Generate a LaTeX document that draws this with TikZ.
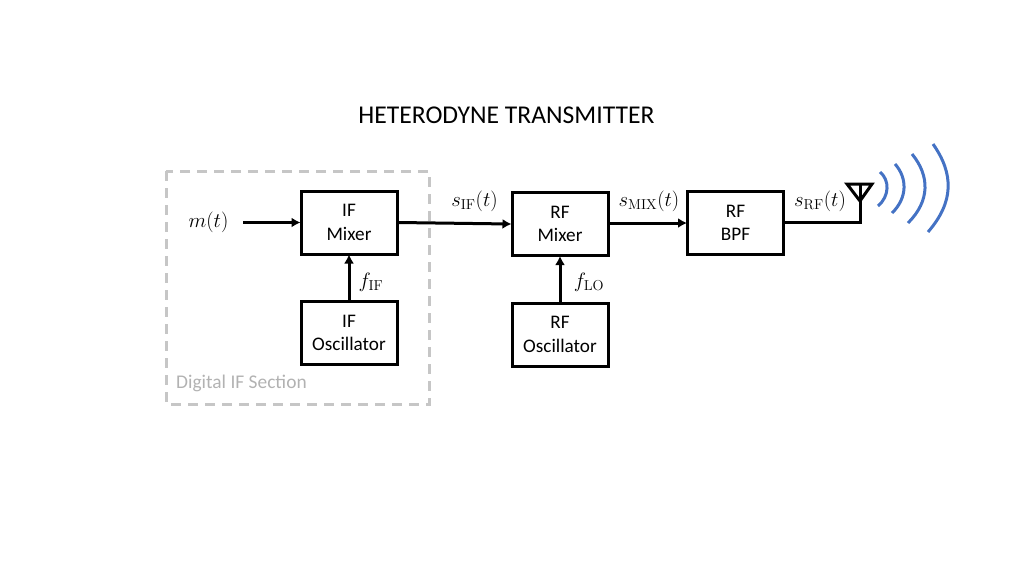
\documentclass[tikz,border=0pt]{standalone}
\usepackage{amsmath,amssymb}
\usepackage[no-math]{fontspec}
\setmainfont{Carlito}
\usetikzlibrary{arrows.meta}
\definecolor{sectgray}{RGB}{198,198,198}
\definecolor{wavblue}{RGB}{68,114,196}
\tikzset{
	blockbox/.style={draw=black,line width=3pt,minimum width=96pt,minimum height=63pt,align=center,inner sep=0pt,font=\fontsize{19.2}{23.5}\selectfont},
	sigline/.style={line width=3pt},
	sigarrow/.style={line width=3pt,-{Latex[length=9pt,width=10pt]},shorten >=-1pt},
	siglabel/.style={font=\fontsize{21}{24}\selectfont,inner sep=0pt},
	wavearc/.style={draw=wavblue,line width=3pt}
}
\begin{document}
\begin{tikzpicture}[x=1pt,y=-1pt]
		\useasboundingbox (0,0) rectangle (1024,576);
		\node[font=\fontsize{25.6}{30}\selectfont,inner sep=0pt] (title) at (506.5,115){HETERODYNE TRANSMITTER};
		% digital section
		\draw[sectgray,line width=3pt,dash pattern=on 10pt off 7pt] (166,171) rectangle (429.5,404);
		\node[font=\fontsize{19.4}{22}\selectfont,text=sectgray!90!black,inner sep=0pt,anchor=west] (sect) at (176,383.5){Digital IF Section};
		% blocks
		\node[blockbox] (ifmix) at (349,222.5){IF\\Mixer};
		\node[blockbox] (ifosc) at (349,333){IF\\Oscillator};
		\node[blockbox] (rfmix) at (560,224){RF\\Mixer};
		\node[blockbox] (rfosc) at (560,334.5){RF\\Oscillator};
		\node[blockbox] (rfbpf) at (735.5,223){RF\\BPF};
		% labels
		\node[siglabel] (msg) at (208.5,222){$m(t)$};
		\node[siglabel] (fif) at (371,282){$f_{\mathrm{IF}}$};
		\node[siglabel] (sif) at (474.5,201){$s_{\mathrm{IF}}(t)$};
		\node[siglabel] (flo) at (589,282){$f_{\mathrm{LO}}$};
		\node[siglabel] (smix) at (649,201){$s_{\mathrm{MIX}}(t)$};
		\node[siglabel] (srf) at (820,201){$s_{\mathrm{RF}}(t)$};
		% connectors
		\coordinate (msgout) at (243,222.5);
		\coordinate (antfoot) at (860,222);
		\coordinate (anttop) at (860,184);
		\coordinate (antl) at (847,184);
		\coordinate (antr) at (872,184);
		\coordinate (antapex) at (860,201);
		\draw[sigarrow] (msgout) -- (ifmix.west);
		\draw[sigarrow] (ifosc.north) -- (ifmix.south);
		\draw[sigarrow] (ifmix.east) -- (rfmix.west);
		\draw[sigarrow] (rfosc.north) -- (rfmix.south);
		\draw[sigarrow] (rfmix.east |- rfbpf.west) -- (rfbpf.west);
		\draw[sigline] (rfbpf.east |- antfoot) -- (antfoot) -- (anttop);
		\draw[sigline,line join=miter] (antl) -- (antr) -- (antapex) -- cycle;
		% waves
		\draw[wavearc] (880,172) .. controls (889.7,180) and (889.7,196) .. (878,206);
		\draw[wavearc] (895,164) .. controls (907.5,178) and (907.5,198) .. (892,213);
		\draw[wavearc] (912,154) .. controls (930,176) and (930,201) .. (908,223);
		\draw[wavearc] (933,144) .. controls (954,174) and (954,202) .. (928,232);
	\end{tikzpicture}
\end{document}
